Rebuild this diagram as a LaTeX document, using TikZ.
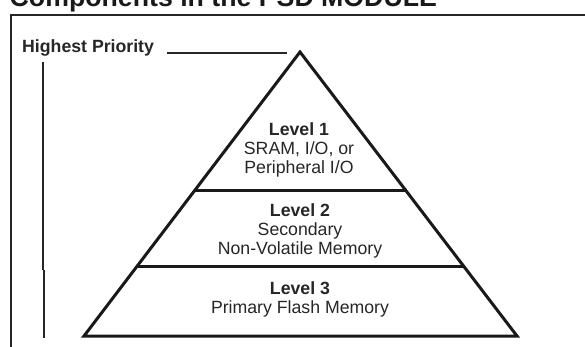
\documentclass[tikz,border=0pt]{standalone}
\usepackage{fontspec}
\setmainfont{Liberation Sans}
\usetikzlibrary{calc}
\begin{document}
\begin{tikzpicture}[x=1pt,y=-1pt,
  frameline/.style={line width=1.8pt,draw=black!85},
  pyrline/.style={line width=3pt,draw=black!90,line join=miter},
  bodytext/.style={font=\fontsize{17.7}{19.2}\selectfont,align=center,inner sep=0pt,text=black!85},
  titletext/.style={font=\fontsize{26.7}{30}\selectfont\bfseries,inner sep=0pt,anchor=base west,text=black!90}]
\useasboundingbox (0,0) rectangle (585,347);
% title (clipped at the top)
\node[titletext] (title) at (9.5,6.8) {Components in the PSD MODULE};
% frame
\coordinate (fTL) at (11,14.8);
\coordinate (fTR) at (585,14.8);
\coordinate (fBL) at (11,347);
\draw[frameline] (fTR) -- (fTL) -- (fBL);
% highest priority
\node[bodytext,font=\fontsize{17.7}{19.2}\selectfont\bfseries,anchor=base west] (hp) at (22,53) {Highest Priority};
\coordinate (hpA) at (167,53);
\coordinate (hpB) at (287,53);
\draw[frameline] (hpA) -- (hpB);
% vertical line
\coordinate (v1) at (43,62);
\coordinate (v2) at (43,270);
\coordinate (v3) at (44,270);
\coordinate (v4) at (44,338);
\draw[frameline] (v1) -- (v2);
\draw[frameline] (v3) -- (v4);
% pyramid
\coordinate (apex) at (300,52);
\coordinate (bl) at (84,336);
\coordinate (br) at (517,336);
\draw[pyrline] (apex) -- (br) -- (bl) -- cycle;
\coordinate (d1l) at ($(apex)!0.486!(bl)$);
\coordinate (d1r) at ($(apex)!0.486!(br)$);
\coordinate (d2l) at ($(apex)!0.754!(bl)$);
\coordinate (d2r) at ($(apex)!0.754!(br)$);
\draw[pyrline] (d1l) -- (d1r);
\draw[pyrline] (d2l) -- (d2r);
% level texts
\node[bodytext] (l1) at (299,150) {\textbf{Level 1}\\SRAM, I/O, or\\Peripheral I/O};
\node[bodytext] (l2) at (300,231) {\textbf{Level 2}\\Secondary\\Non-Volatile Memory};
\node[bodytext] (l3) at (300,299.5) {\textbf{Level 3}\\Primary Flash Memory};
\end{tikzpicture}
\end{document}
